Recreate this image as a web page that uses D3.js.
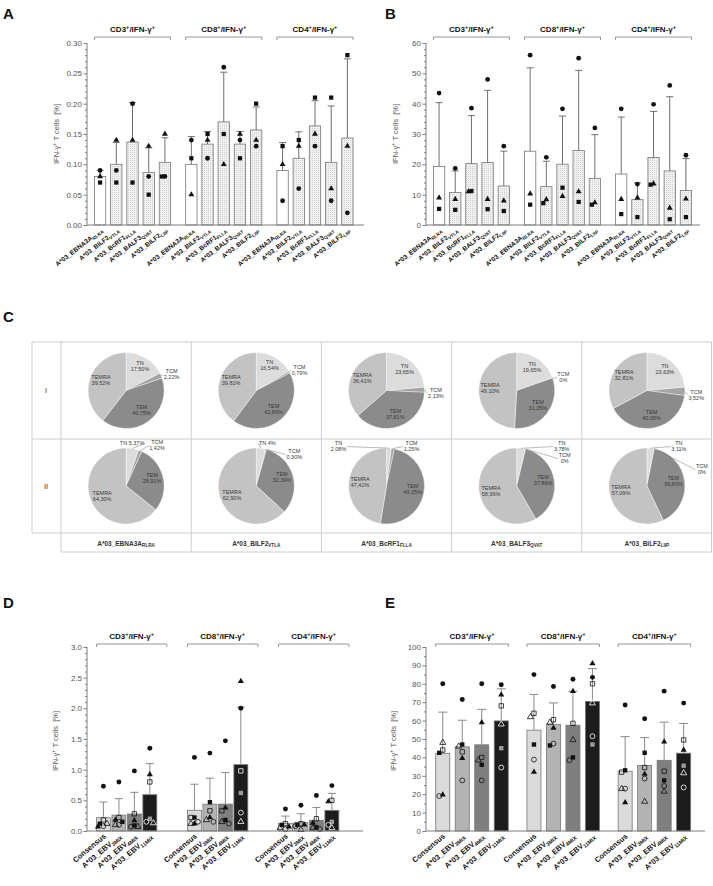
<!DOCTYPE html>
<html><head><meta charset="utf-8">
<script src="https://cdn.jsdelivr.net/npm/d3@7"></script>
<style>
html,body{margin:0;padding:0;background:#fff}
svg{display:block}
</style></head>
<body>
<svg id="fig" width="713" height="886"></svg>
<script>
// ================= DATA =================
const groupNames = ["CD3", "CD8", "CD4"];
const epitopeNames = ["A*03_EBNA3A", "A*03_BILF2", "A*03_BcRF1", "A*03_BALF3", "A*03_BILF2"];
const epitopeSubs = ["RLRA", "VTLA", "FLLA", "QVAT", "LIIP"];
const shapesAB = ["circle", "triangle", "square"]; // donor order, panels A & B

// Panel A: IFN-γ+ T cells [%], per group -> epitope -> donors [●, ▲, ■]
const aCD3 = [[0.09,0.08,0.07],[0.09,0.14,0.07],[0.20,0.14,0.07],[0.08,0.13,0.05],[0.08,0.15,0.08]];
const aCD8 = [[0.14,0.05,0.11],[0.11,0.14,0.15],[0.26,0.10,0.15],[0.14,0.15,0.11],[0.13,0.14,0.20]];
const aCD4 = [[0.04,0.10,0.13],[0.06,0.13,0.14],[0.13,0.15,0.21],[0.04,0.06,0.21],[0.02,0.13,0.28]];
// Panel B
const bCD3 = [[43.5,9,5.3],[18.7,8.5,5],[38.5,11,11.2],[48,8.5,5.2],[26,8,4.6]];
const bCD8 = [[56,10.3,6.7],[22.3,8.4,7.2],[38.3,9.5,12.3],[55,11,7.6],[32,7.4,6.7]];
const bCD4 = [[38.3,8.5,3.6],[13.5,9,2.6],[39.8,13.6,13.3],[46,5.6,1.9],[23,8.6,2.6]];

const mixNames = ["Consensus", "A*03_EBV", "A*03_EBV", "A*03_EBV"];
const mixSubs = ["", "3MIX", "4MIX", "11MIX"];
const shapesDE = ["circle", "square", "triangle", "circleOpen", "squareOpen", "triangleOpen"];
// Panel D: donors [●, ■, ▲, ○, □, △]
const dCD3 = [[0.73,0.12,0.07,0.08,0.18,0.12],[0.80,0.15,0.18,0.10,0.22,0.10],[0.98,0.09,0.17,0.07,0.28,0.07],[1.35,0.20,0.92,0.15,0.80,0.13]];
const dCD8 = [[1.20,0.22,0.12,0.15,0.22,0.12],[1.27,0.47,0.22,0.15,0.33,0.18],[1.47,0.18,0.38,0.12,0.33,0.15],[2.00,0.62,2.44,0.30,0.98,0.15]];
const dCD4 = [[0.36,0.10,0.07,0.03,0.12,0.05],[0.42,0.10,0.10,0.08,0.12,0.02],[0.58,0.06,0.13,0.03,0.20,0.05],[0.74,0.15,0.48,0.10,0.50,0.05]];
// Panel E
const eCD3 = [[80,42.5,19.7,19,44,48],[71.5,47,39.5,27.5,43,46],[80,36,59,27.5,40,38.5],[79.5,45,74,34.5,68,58]];
const eCD8 = [[85,47,32,38.8,64,62],[78.5,46.5,56,47.5,60.5,59],[82.5,40,76,38.5,58.5,49.5],[83.5,47,91,51.5,80,69.5]];
const eCD4 = [[68.5,33,15.5,23,32,23],[61,42.5,31,28.5,34.5,16],[76,27.5,48.5,24.5,32.5,21.5],[69.5,35.5,44,23.7,49.5,31.5]];

const ticksA = [0, 0.05, 0.10, 0.15, 0.20, 0.25, 0.30];
const ticksB = [0, 10, 20, 30, 40, 50, 60];
const ticksD = [0, 0.5, 1.0, 1.5, 2.0, 2.5, 3.0];
const ticksE = [0, 10, 20, 30, 40, 50, 60, 70, 80, 90, 100];

// Panel C: memory subsets (%)
const pieSubsets = ["TN", "TCM", "TEM", "TEMRA"];
const pieRowNames = ["I", "II"];
const pieRowI  = [[17.50,2.22,40.75,39.52],[16.54,0.79,42.86,39.81],[23.65,2.13,37.81,36.41],[19.65,0.00,31.25,49.10],[23.63,3.52,40.05,32.81]];
const pieRowII = [[5.37,1.42,28.91,64.30],[4,0.30,32.39,62.90],[2.08,1.25,49.25,47.42],[3.78,0.00,37.86,58.36],[3.11,0.00,39.80,57.09]];

// ================= LAYOUT / STYLE =================
const FONT = "'Liberation Sans', Arial, Helvetica, sans-serif";
const svg = d3.select("#fig").attr("font-family", FONT);
svg.append("rect").attr("width", 713).attr("height", 886).attr("fill", "#fff");
const defs = svg.append("defs");
const pat = defs.append("pattern").attr("id", "stip").attr("width", 2).attr("height", 2).attr("patternUnits", "userSpaceOnUse");
pat.append("rect").attr("width", 2).attr("height", 2).attr("fill", "#f1f1f1");
pat.append("rect").attr("width", 1).attr("height", 1).attr("fill", "#d0d0d0");

const pieColors = ["#dcdcdc", "#a4a4a4", "#8b8b8b", "#c3c3c3"];
const mixFills = ["#dadada", "#b3b3b3", "#7f7f7f", "#1c1c1c"];
// positions of outside labels of row II pies (relative to pie centre: dx, first baseline, one-line)
const outerLabelLayoutII = [
  { TN: [6, -41, true],  TCM: [31, -42] },
  { TN: [11, -41, true], TCM: [38, -33] },
  { TN: [-48, -41],      TCM: [25, -41] },
  { TN: [45, -41],       TCM: [48, -29] },
  { TN: [32, -41],       TCM: [55, -18] }
];

function rich(sel, parts, size) {
  let shift = 0;
  parts.forEach(([t, mode]) => {
    const ts = sel.append("tspan").text(t);
    let target = 0;
    if (mode === "sup") { target = -size * 0.4; ts.attr("font-size", size * 0.7); }
    if (mode === "sub") { target = size * 0.25; ts.attr("font-size", size * 0.72); }
    if (target !== shift) { ts.attr("dy", target - shift); shift = target; }
  });
}

// ---------- Panel letters ----------
[["A", 3, 19], ["B", 385, 19], ["C", 3, 322], ["D", 3, 608], ["E", 385, 608]].forEach(([t, x, y]) =>
  svg.append("text").attr("x", x).attr("y", y).attr("font-size", 15).attr("font-weight", "bold").attr("fill", "#111").text(t));

// ---------- Bar panels ----------
function barPanel(c) {
  const g = svg.append("g");
  const y = d3.scaleLinear().domain([0, c.ticks[c.ticks.length - 1]]).range(c.yRange);
  const xg = d3.scaleBand().domain(d3.range(c.data.length)).range(c.xRange).paddingInner(c.groupPad).paddingOuter(0);
  const xb = d3.scaleBand().domain(d3.range(c.names.length)).range([0, xg.bandwidth()])
    .paddingInner(c.barPadIn).paddingOuter(c.barPadOut);

  const minors = [];
  for (let i = 0; i < c.ticks.length - 1; i++)
    for (let k = 1; k < c.minorN; k++) minors.push(c.ticks[i] + (c.ticks[i + 1] - c.ticks[i]) * k / c.minorN);
  g.append("g").attr("transform", `translate(${c.axisX},0)`)
    .call(d3.axisLeft(y).tickValues(minors).tickSize(2).tickFormat(""));
  const axMajor = g.append("g").attr("transform", `translate(${c.axisX},0)`)
    .call(d3.axisLeft(y).tickValues(c.ticks).tickSize(3.5).tickPadding(1.5).tickFormat(d3.format(c.fmt)));
  axMajor.attr("font-family", FONT).attr("font-size", 8);
  g.selectAll(".domain").remove();
  g.selectAll(".tick line").attr("stroke", "#7d7d7d");
  axMajor.selectAll("text").attr("fill", "#555");
  g.append("line").attr("x1", c.axisX).attr("x2", c.axisX).attr("y1", y(0)).attr("y2", y.range()[1]).attr("stroke", "#7d7d7d");

  const yl = g.append("text").attr("transform", `translate(${c.yLabelX},${c.yLabelY}) rotate(-90)`)
    .attr("text-anchor", "middle").attr("font-size", 7.5).attr("fill", "#555").style("white-space", "pre");
  rich(yl, [["IFN-γ", ""], ["+", "sup"], [" T cells  [%]", ""]], 7.5);

  c.data.forEach((grp, gi) => {
    const gx = xg(gi);
    const bx0 = gx + xb(0), bx1 = gx + xb(c.names.length - 1) + xb.bandwidth() + (c.bracketExtra || 0);
    g.append("path").attr("d", `M${bx0},${c.bracketY + 3}V${c.bracketY}H${bx1}V${c.bracketY + 3}`)
      .attr("fill", "none").attr("stroke", "#8a8a8a").attr("stroke-width", 0.9);
    const t = g.append("text").attr("x", (bx0 + bx1) / 2).attr("y", c.titleY).attr("text-anchor", "middle")
      .attr("font-size", 8).attr("font-weight", "bold").attr("fill", "#111");
    rich(t, [[groupNames[gi], ""], ["+", "sup"], ["/IFN-γ", ""], ["+", "sup"]], 8);

    grp.forEach((vals, bi) => {
      const mean = d3.mean(vals), sd = d3.deviation(vals);
      const x0 = gx + xb(bi), w = xb.bandwidth(), cx = x0 + w / 2;
      const dark = c.dark ? c.dark(bi) : false;
      g.append("rect").attr("x", x0).attr("y", y(mean)).attr("width", w).attr("height", y(0) - y(mean))
        .attr("fill", c.fill(bi)).attr("stroke", "#777").attr("stroke-width", 0.8);
      const top = y(mean + sd);
      g.append("line").attr("x1", cx).attr("x2", cx).attr("y1", y(mean)).attr("y2", top).attr("stroke", c.errColor).attr("stroke-width", 1);
      g.append("line").attr("x1", cx - c.cap / 2).attr("x2", cx + c.cap / 2).attr("y1", top).attr("y2", top).attr("stroke", c.errColor).attr("stroke-width", 1);

      const pts = vals.map((v, di) => ({ v, di, py: y(v) })).sort((a, b) => b.v - a.v);
      const placed = [];
      pts.forEach(p => {
        const used = placed.filter(q => Math.abs(q.py - p.py) < c.gap).map(q => q.off);
        p.off = c.offsets.find(o => !used.includes(o));
        if (p.off === undefined) p.off = 0;
        placed.push(p);
      });
      pts.forEach(p => {
        const shape = c.shapes[p.di];
        const open = shape.endsWith("Open");
        const base = shape.replace("Open", "");
        const type = base === "circle" ? d3.symbolCircle : base === "square" ? d3.symbolSquare : d3.symbolTriangle;
        const inside = dark && p.v < mean;
        g.append("path").attr("d", d3.symbol().type(type).size(c.msize[base])())
          .attr("transform", `translate(${cx + p.off},${p.py})`)
          .attr("fill", open ? "none" : (inside ? "#9c9c9c" : "#111"))
          .attr("stroke", open ? (inside ? "#fff" : "#111") : "none")
          .attr("stroke-width", 0.8);
      });

      const lt = g.append("text").attr("transform", `translate(${cx + c.labelDx},${y(0) + c.labelDy}) rotate(${c.labelAngle})`)
        .attr("text-anchor", "end").attr("font-size", c.labelSize).attr("font-weight", "bold").attr("fill", "#111");
      rich(lt, [[c.names[bi], ""], [c.subs[bi], "sub"]], c.labelSize);
    });
  });
  g.append("line").attr("x1", c.axisX).attr("x2", c.baseEnd).attr("y1", y(0)).attr("y2", y(0)).attr("stroke", "#7d7d7d");
}

const commonAB = {
  names: epitopeNames, subs: epitopeSubs, shapes: shapesAB,
  groupPad: 0.112, barPadIn: 0.3, barPadOut: 0.15, minorN: 5,
  fill: bi => bi === 0 ? "#fff" : "url(#stip)", errColor: "#6f6f6f", cap: 7,
  offsets: [0, -3, 3], gap: 4.5, msize: { circle: 18, square: 18, triangle: 15 },
  bracketY: 37, titleY: 32, labelDx: 3, labelDy: 6, labelAngle: -38, labelSize: 6.5,
  yRange: [225, 43], yLabelY: 134
};
barPanel(Object.assign({}, commonAB, { data: [aCD3, aCD8, aCD4], ticks: ticksA, fmt: ".2f",
  xRange: [92, 355.5], axisX: 87, baseEnd: 364, yLabelX: 59 }));
barPanel(Object.assign({}, commonAB, { data: [bCD3, bCD8, bCD4], ticks: ticksB, fmt: "d",
  xRange: [431, 694], axisX: 426, baseEnd: 700, yLabelX: 398 }));

const commonDE = {
  names: mixNames, subs: mixSubs, shapes: shapesDE,
  fill: bi => mixFills[bi], dark: bi => bi === 3, errColor: "#8a8a8a",
  offsets: [0, -3.5, 3.5, -5.5, 5.5, 1.5], gap: 4.5, msize: { circle: 19, square: 19, triangle: 16 },
  bracketY: 644, titleY: 639, labelDx: 3, labelDy: 6, labelAngle: -40, labelSize: 7.5,
  yRange: [831, 647], yLabelY: 741
};
barPanel(Object.assign({}, commonDE, { data: [dCD3, dCD8, dCD4], ticks: ticksD, fmt: ".1f", minorN: 5,
  xRange: [95.7, 339.6], groupPad: 0.32, barPadIn: 0.1, barPadOut: 0.05, bracketExtra: 10, cap: 8,
  axisX: 87, baseEnd: 363, yLabelX: 58 }));
barPanel(Object.assign({}, commonDE, { data: [eCD3, eCD8, eCD4], ticks: ticksE, fmt: "d", minorN: 2,
  xRange: [433, 693.4], groupPad: 0.1447, barPadIn: 0.28, barPadOut: 0.14, cap: 9,
  axisX: 426, baseEnd: 705, yLabelX: 396 }));

// ---------- Panel C: pie table ----------
(function piePanel() {
  const g = svg.append("g");
  const colX = d3.scaleBand().domain(d3.range(pieRowI.length)).range([61, 712]);
  const rowTop = [342, 439], rowBot = [439, 533];
  const ln = (x1, y1, x2, y2) => g.append("line").attr("x1", x1).attr("y1", y1).attr("x2", x2).attr("y2", y2)
    .attr("stroke", "#cdcdcd").attr("stroke-width", 1);
  ln(32, 342, 712, 342); ln(32, 439, 712, 439); ln(32, 533, 712, 533); ln(61, 552, 712, 552);
  ln(32, 342, 32, 533); ln(61, 342, 61, 552);
  d3.range(1, pieRowI.length).forEach(i => ln(colX(i), 342, colX(i), 552));
  ln(711.5, 342, 711.5, 552);

  pieRowNames.forEach((n, ri) => g.append("text").attr("x", 46).attr("y", (rowTop[ri] + rowBot[ri]) / 2 + 2.5)
    .attr("text-anchor", "middle").attr("font-size", 7.5).attr("fill", "#333").text(n));

  epitopeNames.forEach((n, ci) => {
    const t = g.append("text").attr("x", colX(ci) + colX.bandwidth() / 2).attr("y", 545.5).attr("text-anchor", "middle")
      .attr("font-size", 6.5).attr("font-weight", "bold").attr("fill", "#333");
    rich(t, [[n, ""], [epitopeSubs[ci], "sub"]], 6.5);
  });

  const r = 38;
  const pie = d3.pie().sort(null).value(d => d);
  const arc = d3.arc().innerRadius(0).outerRadius(r);
  const inArc = d3.arc().innerRadius(r * 0.7).outerRadius(r * 0.7);
  const fmtPct = v => (Number.isInteger(v) ? String(v) : d3.format(".2f")(v).replace(".", ",")) + "%";
  const fs = 5.5;

  [pieRowI, pieRowII].forEach((rowData, ri) => {
    const cy = (rowTop[ri] + rowBot[ri]) / 2;
    rowData.forEach((vals, ci) => {
      const cx = colX(ci) + colX.bandwidth() / 2;
      const pg = g.append("g").attr("transform", `translate(${cx},${cy})`);
      const arcs = pie(vals);
      pg.selectAll("path").data(arcs).join("path").attr("d", arc)
        .attr("fill", (d, i) => pieColors[i]).attr("stroke", "#fff").attr("stroke-width", 0.4);
      arcs.forEach((a, i) => {
        const name = pieSubsets[i], v = vals[i];
        const mid = (a.startAngle + a.endAngle) / 2;
        const outer = ri === 1 ? i < 2 : i === 1;
        if (!outer) {
          const [lx, ly] = inArc.centroid(a);
          const t = pg.append("text").attr("text-anchor", "middle").attr("font-size", fs).attr("fill", "#3a3a3a");
          t.append("tspan").attr("x", lx).attr("y", ly - 3).text(name);
          t.append("tspan").attr("x", lx).attr("y", ly + 3).text(fmtPct(v));
        } else {
          let lx, ly, one = false;
          if (ri === 0) { lx = Math.sin(mid) * r * 1.3; ly = -Math.cos(mid) * r * 1.3 + 2; }
          else { const n = outerLabelLayoutII[ci][name]; lx = n[0]; ly = n[1]; one = !!n[2]; }
          const t = pg.append("text").attr("text-anchor", "middle").attr("font-size", fs).attr("fill", "#3a3a3a");
          if (one) t.append("tspan").attr("x", lx).attr("y", ly).text(name + " " + fmtPct(v));
          else {
            t.append("tspan").attr("x", lx).attr("y", ly).text(name);
            t.append("tspan").attr("x", lx).attr("y", ly + 6).text(fmtPct(v));
          }
          const bb = t.node().getBBox();
          const ex = Math.sin(mid) * r, ey = -Math.cos(mid) * r;
          const right = bb.x + bb.width / 2 >= ex;
          const tx = right ? bb.x - 0.5 : bb.x + bb.width + 0.5;
          const ty = bb.y + bb.height * 0.55;
          pg.append("line").attr("x1", ex).attr("y1", ey).attr("x2", tx).attr("y2", ty)
            .attr("stroke", "#777").attr("stroke-width", 0.5);
        }
      });
    });
  });
})();
</script>
</body></html>
